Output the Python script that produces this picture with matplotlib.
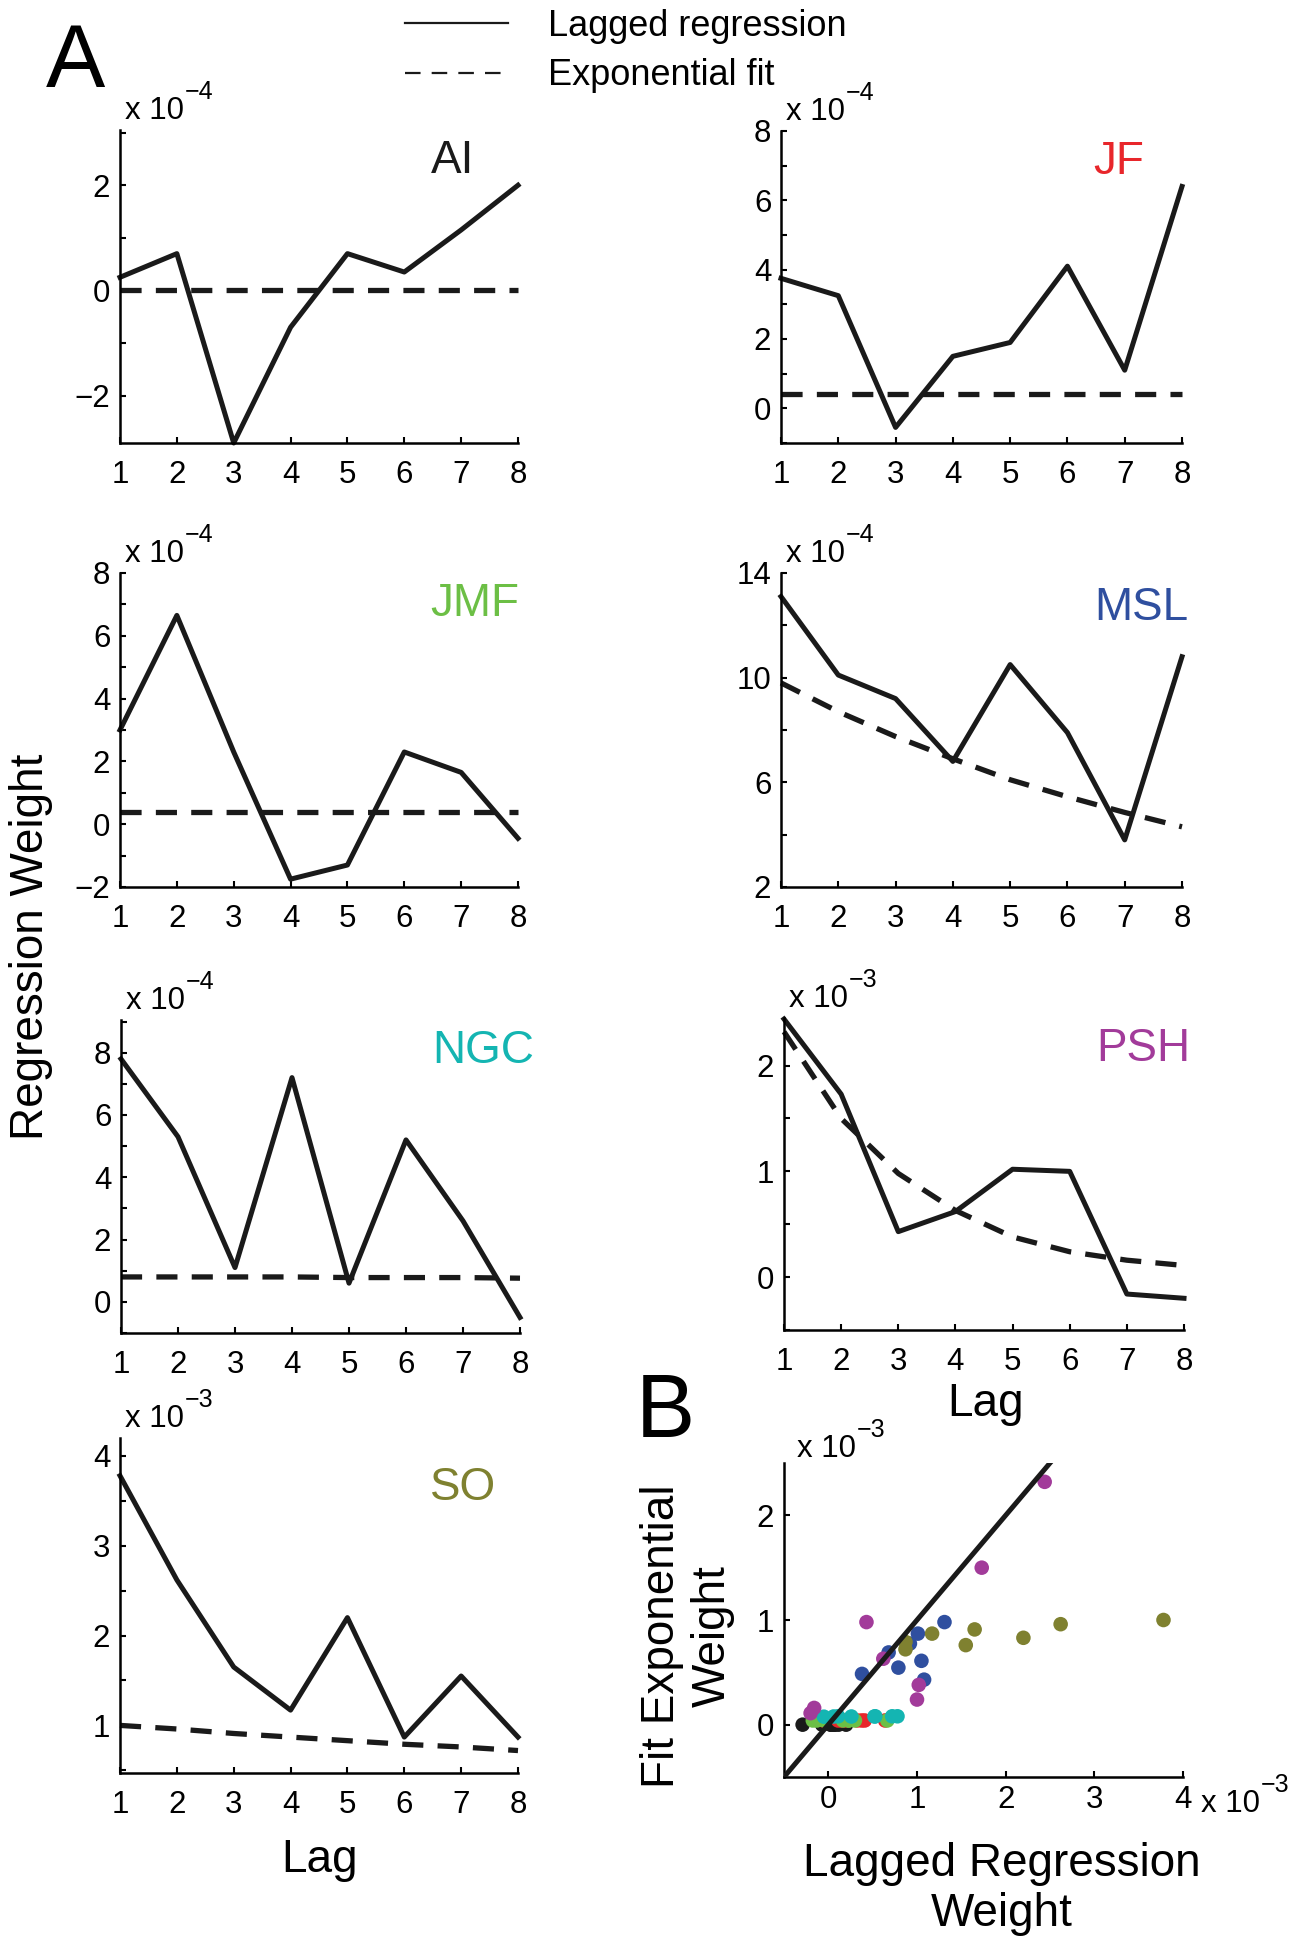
import matplotlib
matplotlib.use("Agg")
import matplotlib.pyplot as plt
import matplotlib.transforms as mtransforms
from matplotlib.lines import Line2D
import numpy as np

plt.rcParams['font.family'] = ['Liberation Sans', 'DejaVu Sans']

# data (values in the units shown on each panel)
lags = [1, 2, 3, 4, 5, 6, 7, 8]
subjects = ['AI', 'JF', 'JMF', 'MSL', 'NGC', 'PSH', 'SO']
exponents = [-4, -4, -4, -4, -4, -3, -3]
colors = ['#1a1a1a', '#e8262b', '#6cbf45', '#2f4f9f', '#14b5b2', '#a23b9a', '#7f8130']

ai_lag = [0.25, 0.7, -2.9, -0.7, 0.7, 0.35, 1.15, 2.0]
ai_fit = [0.0, 0.0, 0.0, 0.0, 0.0, 0.0, 0.0, 0.0]
jf_lag = [3.75, 3.25, -0.55, 1.5, 1.9, 4.1, 1.1, 6.4]
jf_fit = [0.4, 0.4, 0.4, 0.4, 0.4, 0.4, 0.4, 0.4]
jmf_lag = [3.0, 6.65, 2.3, -1.75, -1.3, 2.3, 1.65, -0.45]
jmf_fit = [0.4, 0.4, 0.4, 0.4, 0.4, 0.4, 0.4, 0.4]
msl_lag = [13.1, 10.1, 9.2, 6.8, 10.5, 7.9, 3.8, 10.8]
msl_fit = [9.8, 8.7, 7.75, 6.9, 6.1, 5.45, 4.85, 4.3]
ngc_lag = [7.8, 5.3, 1.1, 7.2, 0.6, 5.2, 2.6, -0.5]
ngc_fit = [0.8, 0.8, 0.8, 0.8, 0.78, 0.78, 0.78, 0.76]
psh_lag = [2.44, 1.73, 0.43, 0.62, 1.02, 1.0, -0.16, -0.2]
psh_fit = [2.32, 1.5, 0.98, 0.63, 0.38, 0.24, 0.16, 0.11]
so_lag = [3.78, 2.62, 1.65, 1.17, 2.2, 0.87, 1.55, 0.87]
so_fit = [1.0, 0.96, 0.91, 0.87, 0.83, 0.79, 0.76, 0.72]

lag_data = [ai_lag, jf_lag, jmf_lag, msl_lag, ngc_lag, psh_lag, so_lag]
fit_data = [ai_fit, jf_fit, jmf_fit, msl_fit, ngc_fit, psh_fit, so_fit]

# layout
W, H = 1291, 1944
fig = plt.figure(figsize=(W / 100, H / 100), dpi=100)

def rect(l, t, r, b):
    return [l / W, 1 - b / H, (r - l) / W, (b - t) / H]

boxes = [(120, 130, 518, 443), (781, 131, 1182, 443),
         (120, 573, 518, 887), (781, 573, 1182, 887),
         (121, 1020, 520, 1333), (784, 1018, 1184, 1330),
         (120, 1438, 518, 1773)]
ylims = [(-2.9, 3.05), (-1, 8), (-2, 8), (2, 14), (-1, 9.05), (-0.5, 2.45), (0.47, 4.2)]
majors = [np.arange(-2, 3, 2), np.arange(0, 9, 2), np.arange(-2, 9, 2), np.arange(2, 15, 4),
          np.arange(0, 9, 2), np.arange(0, 3, 1), np.arange(1, 5, 1)]
minors = [np.arange(-2, 4, 1), np.arange(-1, 9, 1), np.arange(-2, 9, 1), np.arange(2, 15, 2),
          np.arange(-1, 10, 1), np.arange(-0.5, 2.5, 0.5), np.arange(0.5, 4.2, 0.5)]
name_y = [0.9, 0.9, 0.9, 0.89, 0.9, 0.9, 0.85]

def style(ax):
    for s in ['top', 'right']:
        ax.spines[s].set_visible(False)
    for s in ['left', 'bottom']:
        ax.spines[s].set_linewidth(1.8)
    ax.tick_params(which='both', direction='in', length=4.5, width=1.5, labelsize=22.5)

def power_label(ax, exp, x, y, ax_x=0, ax_y=1):
    # "x 10" with a raised exponent, placed in pixels from an axes corner
    tr = mtransforms.offset_copy(ax.transAxes, fig=fig, x=x, y=y, units='dots')
    ax.text(ax_x, ax_y, 'x 10', transform=tr, fontsize=22.5, ha='left', va='baseline')
    tr = mtransforms.offset_copy(ax.transAxes, fig=fig, x=x + 60, y=y + 20, units='dots')
    ax.text(ax_x, ax_y, '\u2212%d' % abs(exp), transform=tr, fontsize=18,
            ha='left', va='baseline')

for i, name in enumerate(subjects):
    ax = fig.add_axes(rect(*boxes[i]))
    ax.plot(lags, lag_data[i], color='#1a1a1a', lw=3.6, clip_on=False)
    ax.plot(lags, fit_data[i], color='#1a1a1a', lw=3.8, dashes=(4.0, 2.7), clip_on=False)
    ax.set_xlim(1, 8)
    ax.set_ylim(*ylims[i])
    ax.set_xticks(lags)
    ax.set_yticks(majors[i])
    ax.set_yticks(minors[i], minor=True)
    style(ax)
    ax.tick_params(axis='x', pad=12)
    ax.tick_params(axis='y', pad=7)
    ax.text(0.78, name_y[i], name, transform=ax.transAxes, color=colors[i],
            fontsize=33, ha='left', va='center')
    power_label(ax, exponents[i], 5, 11)

# panel B scatter
axb = fig.add_axes(rect(784, 1463, 1183, 1777))
for i, name in enumerate(subjects):
    k = 10.0 ** (exponents[i] + 3)
    axb.scatter(np.array(lag_data[i]) * k, np.array(fit_data[i]) * k,
                s=110, color=colors[i], edgecolors='none', zorder=2, clip_on=False)
axb.axline((0, 0), slope=1, color='#1a1a1a', lw=3.6, zorder=3)
axb.set_xlim(-0.5, 4)
axb.set_ylim(-0.5, 2.5)
axb.set_xticks([0, 1, 2, 3, 4])
axb.set_yticks([0, 1, 2])
style(axb)
axb.tick_params(axis='x', pad=6)
axb.tick_params(axis='y', pad=7)
power_label(axb, -3, 13, 6)
power_label(axb, -3, 18, -35, ax_x=1, ax_y=0)

# labels
fig.text(46 / W, 1 - 64 / H, 'A', fontsize=64, ha='left', va='center')
fig.text(636 / W, 1 - 1414 / H, 'B', fontsize=64, ha='left', va='center')
fig.text(31 / W, 1 - 947 / H, 'Regression Weight', fontsize=33, rotation=90,
         ha='center', va='center')
fig.text(320 / W, 1 - 1860 / H, 'Lag', fontsize=33, ha='center', va='center')
fig.text(986 / W, 1 - 1404 / H, 'Lag', fontsize=33, ha='center', va='center')
fig.text(1002 / W, 1 - 1889 / H, 'Lagged Regression\nWeight', fontsize=33,
         ha='center', va='center', linespacing=1.2)
fig.text(687 / W, 1 - 1636 / H, 'Fit Exponential\nWeight', fontsize=33, rotation=90,
         ha='center', va='center', linespacing=1.2)

# legend
handles = [Line2D([], [], color='#1a1a1a', lw=1.6),
           Line2D([], [], color='#1a1a1a', lw=1.6, dashes=(7, 5))]
fig.legend(handles, ['Lagged regression', 'Exponential fit'], loc='upper left',
           bbox_to_anchor=(405 / W, 1 - 9 / H), frameon=False, fontsize=26,
           handlelength=2.85, handletextpad=1.1, labelspacing=0.4,
           borderpad=0, borderaxespad=0)

fig.savefig('out.png', dpi=100)
